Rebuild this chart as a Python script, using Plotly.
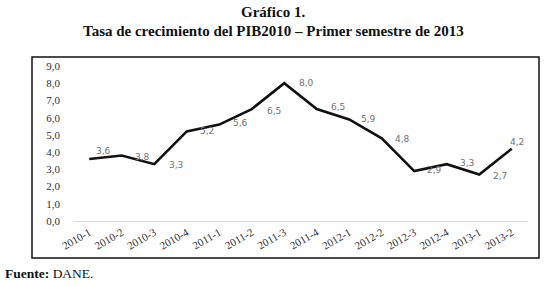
import plotly.graph_objects as go

categories = ["2010-1", "2010-2", "2010-3", "2010-4", "2011-1", "2011-2", "2011-3",
              "2011-4", "2012-1", "2012-2", "2012-3", "2012-4", "2013-1", "2013-2"]
values = [3.6, 3.8, 3.3, 5.2, 5.6, 6.5, 8.0, 6.5, 5.9, 4.8, 2.9, 3.3, 2.7, 4.2]
y_ticks = [0, 1, 2, 3, 4, 5, 6, 7, 8, 9]

# label offsets in pixels (x right, y up)
label_dx = [14, 21, 22, 20, 21, 22, 22, 21, 19, 21, 20, 20, 21, 5]
label_dy = [8, -1, -1, 0, 2, -2, 0, 2, 0, -1, 1, 1, -1, 7]

fig = go.Figure()
fig.add_trace(go.Scatter(
    x=categories, y=values, mode="lines",
    line=dict(color="#111111", width=2.6),
    hoverinfo="skip", showlegend=False,
))

for c, v, dx, dy in zip(categories, values, label_dx, label_dy):
    fig.add_annotation(
        x=c, y=v, text=f"{v:.1f}".replace(".", ","), showarrow=False,
        xshift=dx, yshift=dy, xanchor="center", yanchor="middle",
        font=dict(family="DejaVu Sans", size=9, color="#727272"),
    )

L, R, T, B = 73, 19, 66, 66
W, H = 547, 287
pw, ph = W - L - R, H - T - B

def px_x(px):
    return (px - L) / pw

def px_y(py):
    return (H - B - py) / ph

fig.add_shape(type="rect", xref="paper", yref="paper",
              x0=px_x(32), x1=px_x(539), y0=px_y(258), y1=px_y(57),
              line=dict(color="#111111", width=1.5), layer="below")

fig.add_annotation(xref="paper", yref="paper", x=px_x(273), y=px_y(12),
                   xanchor="center", yanchor="middle",
                   text="<b>Gráfico 1.</b>", showarrow=False,
                   font=dict(family="Liberation Serif", size=15, color="#111111"))
fig.add_annotation(xref="paper", yref="paper", x=px_x(273), y=px_y(31),
                   xanchor="center", yanchor="middle",
                   text="<b>Tasa de crecimiento del PIB2010 – Primer semestre de 2013</b>",
                   showarrow=False,
                   font=dict(family="Liberation Serif", size=15, color="#111111"))
fig.add_annotation(xref="paper", yref="paper", x=px_x(3), y=px_y(273),
                   xanchor="left", yanchor="middle", text="<b>Fuente:</b> DANE.", showarrow=False,
                   font=dict(family="Liberation Serif", size=13.5, color="#111111"))

fig.update_layout(
    width=W, height=H,
    margin=dict(l=L, r=R, t=T, b=B, autoexpand=False),
    paper_bgcolor="white", plot_bgcolor="white",
    separators=",.",
    xaxis=dict(
        type="category", range=[-0.5, len(categories) - 0.5],
        showgrid=False, showline=True, linecolor="#d9d9d9", linewidth=1,
        tickangle=-30, ticks="", automargin=False,
        tickfont=dict(family="Liberation Serif", size=11, color="#333333"),
        fixedrange=True,
    ),
    yaxis=dict(
        range=[0, 9], tickvals=y_ticks, tickformat=".1f",
        showgrid=False, zeroline=False, showline=False, ticks="",
        ticklabelstandoff=12, automargin=False,
        tickfont=dict(family="Liberation Serif", size=11, color="#333333"),
        fixedrange=True,
    ),
)

fig.write_html("out.html", config={"displayModeBar": False},
               post_script="document.body.style.margin='0';document.body.style.padding='0';")
